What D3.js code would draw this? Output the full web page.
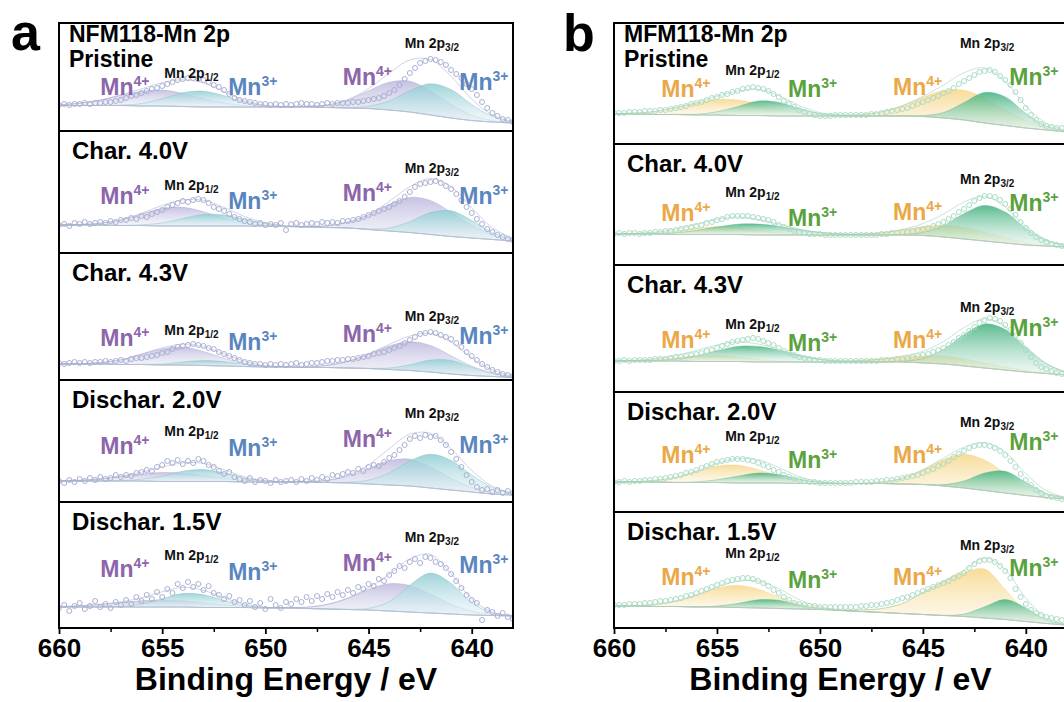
<!DOCTYPE html>
<html><head><meta charset="utf-8">
<script src="https://cdn.jsdelivr.net/npm/d3@7"></script>
<style>
html,body{margin:0;padding:0;background:#fff;overflow:hidden;}
svg{display:block;font-family:"Liberation Sans",Arial,Helvetica,sans-serif;}
</style></head><body>
<svg id="chart" width="1064" height="702"></svg>
<script>
// ---------- categories / ticks ----------
const componentEnergy = [660,659,658,657,656,655,654,653,652,651,650,649,648,647,646,645,644,643,642,641,640,639,638];
const scatterEnergy = [660,659.75,659.5,659.25,659,658.75,658.5,658.25,658,657.75,657.5,657.25,657,656.75,656.5,656.25,
 656,655.75,655.5,655.25,655,654.75,654.5,654.25,654,653.75,653.5,653.25,653,652.75,652.5,652.25,
 652,651.75,651.5,651.25,651,650.75,650.5,650.25,650,649.75,649.5,649.25,649,648.75,648.5,648.25,
 648,647.75,647.5,647.25,647,646.75,646.5,646.25,646,645.75,645.5,645.25,645,644.75,644.5,644.25,
 644,643.75,643.5,643.25,643,642.75,642.5,642.25,642,641.75,641.5,641.25,641,640.75,640.5,640.25,
 640,639.75,639.5,639.25,639,638.75,638.5,638.25,638];
const xTickValues = [660,655,650,645,640];
const xMinorTickValues = [657.5,652.5,647.5,642.5];
const stateNames = ["Pristine","Char. 4.0V","Char. 4.3V","Dischar. 2.0V","Dischar. 1.5V"];
const sampleTitles = ["NFM118-Mn 2p","MFM118-Mn 2p"];
const axisTitle = "Binding Energy / eV";

// ---------- NFM118 (panel a) ----------
const nfmPristineCounts = [26,27,26,27,27,28,27,28,28,29,29,30,31,33,35,36,38,40,42,43,45,47,49,51,52,53,53,52,51,49,46,44,41,37,33,31,30,29,28,27,27,26,27,26,27,26,27,28,27,27,26,27,28,27,28,28,28,29,29,30,31,32,33,35,38,41,46,52,58,63,68,70,72,71,69,66,61,57,53,47,42,36,29,23,18,15,12,11,9];
const nfmPristineBg  = [25.5,25.5,25.5,25.5,25,25,24.5,24,24,24,24,24,24,23.5,23,22.5,21,19,16,13,10.5,9,8];
const nfmPristineMn4 = [0.7,2.2,5.4,10.2,14.7,15.9,13.1,8.2,3.9,1.4,0.4,0,0.6,2.5,8,17.7,27.7,30.8,24.1,13.4,5.3,1.5,0.3];
const nfmPristineMn3 = [0,0,0,0.5,2.4,7.4,13.7,15.8,11.3,5,1.4,0.3,0,0,0.4,2.3,9,21.3,31.3,28.4,16,5.6,1.2];

const nfmChar40Counts = [28,29,27,30,29,31,29,30,31,30,32,31,33,33,35,34,37,36,39,41,43,46,48,50,52,51,53,54,53,50,46,44,42,39,36,34,32,31,29,30,28,29,28,30,23,29,30,28,29,30,29,31,30,31,30,32,32,33,34,36,38,40,42,44,46,49,52,56,61,66,69,70,71,72,70,67,64,59,53,46,40,34,29,24,21,18,16,14,13];
const nfmChar40Bg  = [28,28,28,27.5,27.5,27,27,27,27,27,27,26.5,26,25.5,25,23.5,22,20.5,18.5,16.5,15,13.5,12];
const nfmChar40Mn4 = [0.1,0.4,1.8,5.4,11.5,17.5,18.7,14.2,7.6,2.9,0.8,0.2,0.4,1.7,5.9,14.6,26.5,35.1,34,24.1,12.5,4.7,1.3];
const nfmChar40Mn3 = [0,0,0,0.1,0.7,3,7.5,11.5,11,6.5,2.4,0.5,0,0,0,0.5,3.1,10.8,21.9,25.7,17.6,7,1.6];

const nfmChar43Counts = [17,16,17,18,17,18,17,18,18,19,18,19,20,19,21,22,22,23,24,25,27,28,31,33,34,35,36,35,34,32,31,28,26,24,22,20,18,17,16,16,15,16,15,16,15,16,17,15,16,17,17,18,19,19,20,20,21,21,22,23,24,26,27,28,30,32,34,37,40,43,46,47,48,47,45,43,41,37,33,28,24,20,16,13,10,8,6,5,4];
const nfmChar43Bg  = [16,16,16,15.5,15.5,15,15,14.5,14,13.5,13,13,12.5,12.5,12,11.5,10.5,9.5,8,6,4.5,3.5,2.5];
const nfmChar43Mn4 = [0.05,0.3,1.5,4.6,10.3,16.1,17.9,14,7.8,3.1,0.8,0.3,0.6,2.3,6.7,14.5,23.6,28.8,26.5,18.2,9.4,3.7,1.1];
const nfmChar43Mn3 = [0,0,0,0,0.2,1,3,4.9,4.3,2.1,0.5,0.1,0,0,0,0.2,1.5,5.7,12,13.6,8.3,2.7,0.5];

const nfmDis20Counts = [21,19,22,20,23,21,24,22,25,23,24,27,25,27,26,29,30,32,31,35,37,41,39,42,38,41,39,43,41,37,35,31,28,30,25,23,21,24,20,22,21,19,22,20,21,22,20,23,21,24,22,25,23,27,26,28,30,29,33,31,35,37,36,40,44,47,52,57,63,66,64,67,65,66,62,57,50,43,35,27,20,15,12,13,10,12,9,11,9];
const nfmDis20Bg  = [21,21,21,21,21,20.5,20.5,20.5,20.5,20,20,20,20,19.5,19,18,17,16,14,12,10,8,7];
const nfmDis20Mn4 = [0.2,0.7,2,4.4,7.1,8.9,8.4,6.1,3.3,1.4,0.4,0.1,0.5,2.2,6.9,15.4,24.2,26.8,21,11.7,4.6,1.3,0.2];
const nfmDis20Mn3 = [0,0,0,0.4,1.8,5.5,10.3,11.9,8.5,3.8,1,0.2,0,0,0.8,3.8,12.1,25,33.7,29.6,17,6.4,1.5];

const nfmDis15Counts = [20,23,17,22,25,19,22,27,21,24,20,26,23,28,24,31,27,33,29,36,31,39,35,44,40,46,41,44,38,42,35,33,29,32,26,28,23,27,21,25,19,29,23,20,26,24,29,26,31,27,32,29,34,31,36,33,38,35,41,39,44,42,49,47,53,57,62,60,66,69,65,71,70,66,64,60,54,47,40,33,28,25,8,18,16,12,15,11,9];
const nfmDis15Bg  = [21,21,21,21,21,21,21,20.5,20.5,20.5,20,20,19.5,19,18.5,18,17,16,15,14,13,12.5,12];
const nfmDis15Mn4 = [0.4,1.2,2.6,4.5,6.3,7,6.3,4.5,2.6,1.2,0.4,0.4,1.3,4.6,11.3,20.6,27.3,26.5,18.7,9.7,3.7,1,0.2];
const nfmDis15Mn3 = [0,0,0.1,0.6,2.9,8.2,13.4,12.7,7,2.2,0.4,0,0,0,0.2,1.7,9.3,26.8,39.9,30.6,12.2,2.5,0.3];

// ---------- MFM118 (panel b) ----------
const mfmPristineCounts = [31,31,31,32,32,32,33,33,33,34,34,35,36,37,38,40,41,42,44,46,47,49,50,52,53,55,56,57,56,55,53,50,47,43,40,37,34,32,30,29,28,28,28,29,29,29,29,29,29,29,30,30,31,32,33,34,35,36,38,40,42,44,46,48,51,53,56,60,63,66,69,72,73,74,72,68,64,59,52,44,36,29,24,20,18,17,16,16,15];
const mfmPristineBg  = [30,30,29.5,29.5,29,29,28.5,28.5,28,28,28,28,28,28,28,27.5,26,24,21,18.5,16,14,12];
const mfmPristineMn4 = [0.3,1,3,6.8,11.8,15.5,15.5,11.8,6.8,3,1,0.6,1.3,4.1,10.2,19.2,27.5,29.8,24.6,15.5,7.4,2.7,0.8];
const mfmPristineMn3 = [0,0,0,0.1,0.7,3.2,8.8,14.4,13.6,7.5,2.4,0.5,0,0,0.1,0.9,5.4,17.5,30.5,28.6,14.6,4,0.6];

const mfmChar40Counts = [31,32,31,32,32,31,32,32,33,33,34,34,35,36,37,38,39,40,42,43,45,46,48,49,49,49,49,48,47,46,45,43,40,38,36,34,33,32,31,31,31,30,30,30,30,30,30,30,30,30,30,30,31,31,32,32,33,33,34,35,36,37,39,41,43,46,49,53,56,60,64,67,69,69,68,65,61,56,50,43,37,32,28,25,23,21,20,19,19];
const mfmChar40Bg  = [31,31,31,30.5,30.5,30.5,30.5,30,30,30,30,30,30,30,30,29.5,28,26,24,22,20,19,18];
const mfmChar40Mn4 = [0.1,0.4,1.4,3.5,6.2,7.9,7.2,4.6,2.1,0.7,0.1,0.2,0.8,2.2,5.1,8.8,11.6,11.6,8.8,5.1,2.2,0.8,0.2];
const mfmChar40Mn3 = [0,0.1,0.5,1.7,4,7.4,10.3,10.9,8.7,5.3,2.5,0.9,0.2,0,0.5,3.1,11.3,25.5,35.6,30.9,16.6,5.5,1.1];

const mfmChar43Counts = [31,31,32,31,32,32,32,32,33,33,33,34,35,35,36,37,38,39,41,42,44,46,48,50,51,52,53,54,53,51,49,47,44,41,39,37,35,34,33,32,32,31,31,31,31,31,31,31,31,31,31,31,32,32,32,33,33,34,35,36,37,38,40,42,44,47,50,54,57,61,65,69,72,74,73,71,67,62,56,49,42,35,29,25,23,21,19,18,17];
const mfmChar43Bg  = [31,31,31,31,30.5,30.5,30.5,30,30,30,30,30,30,30,30,29,28,26,24,22,20,18.5,17];
const mfmChar43Mn4 = [0.1,0.6,1.7,3.6,5.5,5.9,4.5,2.4,0.9,0.2,0.1,0.5,1.4,2.9,5.1,7.2,8,7.2,5.1,2.9,1.4,0.5,0.1];
const mfmChar43Mn3 = [0,0.1,0.6,2.1,5.5,10.7,15.1,15.6,11.8,6.5,2.6,0.8,0.2,0,0.9,4.4,14.5,31.3,44.1,40.5,24.3,9.5,2.4];

const mfmDis20Counts = [30,30,31,30,31,31,32,32,33,33,34,35,36,37,39,40,42,44,46,48,50,51,52,53,53,53,52,51,49,47,45,42,40,37,35,33,32,31,30,30,29,29,29,29,29,29,29,30,30,30,30,31,31,32,32,33,34,35,36,37,39,41,43,46,48,51,55,58,61,64,66,67,67,66,64,61,57,51,45,38,32,27,22,19,16,15,14,13,12];
const mfmDis20Bg  = [30,30,30,29.5,29.5,29.5,29,29,29,28.5,28.5,28.5,28.5,28.5,28,27.5,26,24,21.5,19,16.5,14.5,13];
const mfmDis20Mn4 = [0.1,0.4,1.7,5.1,10.9,16.5,17.7,13.4,7.2,2.7,0.7,0.1,0.3,1.6,5.8,14.7,26.5,33.8,30.4,19.4,8.7,2.8,0.6];
const mfmDis20Mn3 = [0,0,0,0.1,0.6,2.7,6.8,9.9,8.4,4.2,1.2,0.2,0,0,0,0.1,1.4,7,17.5,21.7,13.2,4,0.6];

const mfmDis15Counts = [23,23,23,24,24,24,25,25,26,27,27,28,29,30,32,33,35,37,39,41,43,45,47,48,49,50,50,49,47,45,42,38,35,31,28,25,24,23,22,22,21,21,21,21,21,21,21,21,22,22,23,23,24,25,26,28,30,31,33,35,37,39,41,43,45,47,50,52,55,60,64,67,68,68,66,62,57,50,39,31,24,18,15,13,11,10,9,8,8];
const mfmDis15Bg  = [22,22,21.5,21.5,21,21,20.5,20,19.5,19,18.5,17.5,16.5,15.5,14.5,13.5,12.5,11.5,10,8.5,6.5,4.5,3];
const mfmDis15Mn4 = [0.1,0.4,1.8,5.4,11.7,18.8,22,18.8,11.7,5.4,1.8,0.5,1.6,4,10,22,34,44,49,30,10,2,0.3];
const mfmDis15Mn3 = [0,0,0,0,0.1,1,4,8.2,8.2,4,1,0.1,0,0,0,0,0.2,2.4,11.2,19.9,13.5,3.5,0.3];

// ---------- grouping ----------
const panelSeries = [
  {counts:[nfmPristineCounts,nfmChar40Counts,nfmChar43Counts,nfmDis20Counts,nfmDis15Counts],
   bg:[nfmPristineBg,nfmChar40Bg,nfmChar43Bg,nfmDis20Bg,nfmDis15Bg],
   mn4:[nfmPristineMn4,nfmChar40Mn4,nfmChar43Mn4,nfmDis20Mn4,nfmDis15Mn4],
   mn3:[nfmPristineMn3,nfmChar40Mn3,nfmChar43Mn3,nfmDis20Mn3,nfmDis15Mn3]},
  {counts:[mfmPristineCounts,mfmChar40Counts,mfmChar43Counts,mfmDis20Counts,mfmDis15Counts],
   bg:[mfmPristineBg,mfmChar40Bg,mfmChar43Bg,mfmDis20Bg,mfmDis15Bg],
   mn4:[mfmPristineMn4,mfmChar40Mn4,mfmChar43Mn4,mfmDis20Mn4,mfmDis15Mn4],
   mn3:[mfmPristineMn3,mfmChar40Mn3,mfmChar43Mn3,mfmDis20Mn3,mfmDis15Mn3]}
];

// ---------- layout & style ----------
const layout = [
  {letter:"a", letterX:11, letterY:50, left:59, right:513, edges:[23,131,253,380,502,628],
   mn4Color:"#8c65aa", mn3Color:"#5a86c0", pointColor:"#a9afd2", envColor:"#9ca2c6", bgColor:"#b9bdcf",
   grad4:["#c4bfe1","#eef0f8"], grad3:["#8fcdd3","#e4f2f6"], stroke4:"#a9a3cf", stroke3:"#7fbcc4",
   labelE:[658.0,654.9,651.8,646.25,643.25,640.6],
   labelY:[[72,55,72,62,25,67],[73,59,78,70,42,73],[93,82,97,89,68,91],[74,56,76,67,38,73],[75,58,78,69,40,71]]},
  {letter:"b", letterX:563, letterY:51, left:614, right:1067, edges:[23,144,265,392,512,628],
   mn4Color:"#eaa848", mn3Color:"#5ba23e", pointColor:"#aadcc5", envColor:"#86cba9", bgColor:"#bcc6c1",
   grad4:["#f8da92","#fdf6e4"], grad3:["#3fb07d","#e2f4ec"], stroke4:"#ecd08e", stroke3:"#58b78a",
   labelE:[657.7,654.6,651.55,646.45,643.2,640.8],
   labelY:[[74,52,74,72,25,62],[77,53,82,76,40,67],[83,64,86,83,47,71],[71,49,76,71,35,58],[73,46,76,73,38,64]]}
];

const svg = d3.select("#chart");
const defs = svg.append("defs");
const curve = d3.curveCatmullRom.alpha(0.5);

function addGradient(id, c0, c1){
  const g = defs.append("linearGradient").attr("id", id).attr("x1",0).attr("y1",0).attr("x2",0).attr("y2",1);
  g.append("stop").attr("offset","0%").attr("stop-color",c0).attr("stop-opacity",0.95);
  g.append("stop").attr("offset","100%").attr("stop-color",c1).attr("stop-opacity",0.55);
}

function mnLabel(sel, xPos, yPos, charge, color){
  const t = sel.append("text").attr("x", xPos).attr("y", yPos)
    .attr("fill", color).attr("font-weight","bold").attr("font-size",23);
  t.append("tspan").text("Mn");
  t.append("tspan").attr("font-size",14).attr("dy",-9).text(charge);
}
function orbitalLabel(sel, xPos, yPos, sub){
  const t = sel.append("text").attr("x", xPos).attr("y", yPos)
    .attr("fill","#111").attr("font-weight","bold").attr("font-size",14);
  t.append("tspan").text("Mn 2p");
  t.append("tspan").attr("font-size",10).attr("dy",3).text(sub);
}

layout.forEach((P, pi) => {
  const S = panelSeries[pi];
  const g = svg.append("g");
  const x = d3.scaleLinear().domain([660,638]).range([P.left, P.right]);
  addGradient(`g4-${pi}`, P.grad4[0], P.grad4[1]);
  addGradient(`g3-${pi}`, P.grad3[0], P.grad3[1]);

  for (let s = 0; s < 5; s++){
    const top = P.edges[s], bottom = P.edges[s+1];
    const y = d3.scaleLinear().domain([0,100]).range([bottom, bottom-100]);
    const clipId = `clip-${pi}-${s}`;
    defs.append("clipPath").attr("id", clipId).append("rect")
      .attr("x", P.left).attr("y", top).attr("width", P.right-P.left).attr("height", bottom-top);
    const sg = g.append("g").attr("clip-path", `url(#${clipId})`);

    const rows = componentEnergy.map((e,i) => ({e, bg:S.bg[s][i], m4:S.mn4[s][i], m3:S.mn3[s][i]}));
    const segs = [rows.filter(r => r.e >= 649), rows.filter(r => r.e <= 649)];
    const area4 = d3.area().x(d => x(d.e)).y0(d => y(d.bg)).y1(d => y(d.bg + d.m4)).curve(curve);
    const area3 = d3.area().x(d => x(d.e)).y0(d => y(d.bg)).y1(d => y(d.bg + d.m3)).curve(curve);
    segs.forEach(seg => {
      sg.append("path").attr("d", area4(seg)).attr("fill", `url(#g4-${pi})`)
        .attr("stroke", P.stroke4).attr("stroke-width", 0.6).attr("stroke-opacity", 0.7);
    });
    segs.forEach(seg => {
      sg.append("path").attr("d", area3(seg)).attr("fill", `url(#g3-${pi})`).attr("fill-opacity", 0.9)
        .attr("stroke", P.stroke3).attr("stroke-width", 0.6).attr("stroke-opacity", 0.7);
    });
    sg.append("path").attr("d", d3.line().x(d => x(d.e)).y(d => y(d.bg)).curve(curve)(rows))
      .attr("fill","none").attr("stroke", P.bgColor).attr("stroke-width", 0.9);
    sg.append("path").attr("d", d3.line().x(d => x(d.e)).y(d => y(d.bg + d.m4 + d.m3)).curve(curve)(rows))
      .attr("fill","none").attr("stroke", P.envColor).attr("stroke-width", 0.8).attr("stroke-opacity", 0.6);
    sg.append("g").selectAll("circle")
      .data(scatterEnergy.map((e,i) => ({e, v:S.counts[s][i]})))
      .join("circle")
      .attr("cx", d => x(d.e)).attr("cy", d => y(d.v)).attr("r", 2.5)
      .attr("fill","none").attr("stroke", P.pointColor).attr("stroke-width", 1);

    const LY = P.labelY[s];
    const LE = P.labelE;
    mnLabel(sg, x(LE[0]), top + LY[0], "4+", P.mn4Color);
    orbitalLabel(sg, x(LE[1]), top + LY[1], "1/2");
    mnLabel(sg, x(LE[2]), top + LY[2], "3+", P.mn3Color);
    mnLabel(sg, x(LE[3]), top + LY[3], "4+", P.mn4Color);
    orbitalLabel(sg, x(LE[4]), top + LY[4], "3/2");
    mnLabel(sg, x(LE[5]), top + LY[5], "3+", P.mn3Color);

    if (s === 0){
      g.append("text").attr("x", P.left + 10).attr("y", top + 19).attr("font-size",23).attr("font-weight","bold")
        .attr("fill","#000").text(sampleTitles[pi]);
      g.append("text").attr("x", P.left + 10).attr("y", top + 44).attr("font-size",23).attr("font-weight","bold")
        .attr("fill","#000").text(stateNames[s]);
    } else {
      g.append("text").attr("x", P.left + 13).attr("y", top + 28).attr("font-size",24).attr("font-weight","bold")
        .attr("fill","#000").text(stateNames[s]);
    }
  }

  g.append("rect").attr("x", P.left).attr("y", P.edges[0]).attr("width", P.right-P.left)
    .attr("height", P.edges[5]-P.edges[0]).attr("fill","none").attr("stroke","#000").attr("stroke-width",2);
  g.selectAll("line.divider").data(P.edges.slice(1,5)).join("line").attr("class","divider")
    .attr("x1", P.left).attr("x2", P.right).attr("y1", d => d).attr("y2", d => d)
    .attr("stroke","#000").attr("stroke-width",2);

  const ax = g.append("g").attr("transform", `translate(0,${P.edges[5]})`)
    .call(d3.axisBottom(x).tickValues(xTickValues).tickSize(6).tickPadding(5).tickFormat(d3.format("d")));
  ax.select(".domain").remove();
  ax.attr("font-size",26).attr("font-weight","bold").attr("font-family",null);
  ax.selectAll("text").attr("fill","#000");
  ax.selectAll("line").attr("stroke","#000").attr("stroke-width",1.8);
  const axm = g.append("g").attr("transform", `translate(0,${P.edges[5]})`)
    .call(d3.axisBottom(x).tickValues(xMinorTickValues).tickSize(4).tickFormat(""));
  axm.select(".domain").remove();
  axm.selectAll("line").attr("stroke","#000").attr("stroke-width",1.5);

  g.append("text").attr("x", (P.left+P.right)/2).attr("y", 690).attr("text-anchor","middle")
    .attr("font-size",32).attr("font-weight","bold").attr("fill","#000").text(axisTitle);

  svg.append("text").attr("x", P.letterX).attr("y", P.letterY).attr("font-size",52)
    .attr("font-weight","bold").attr("fill","#000").text(P.letter);
});
</script>
</body></html>
